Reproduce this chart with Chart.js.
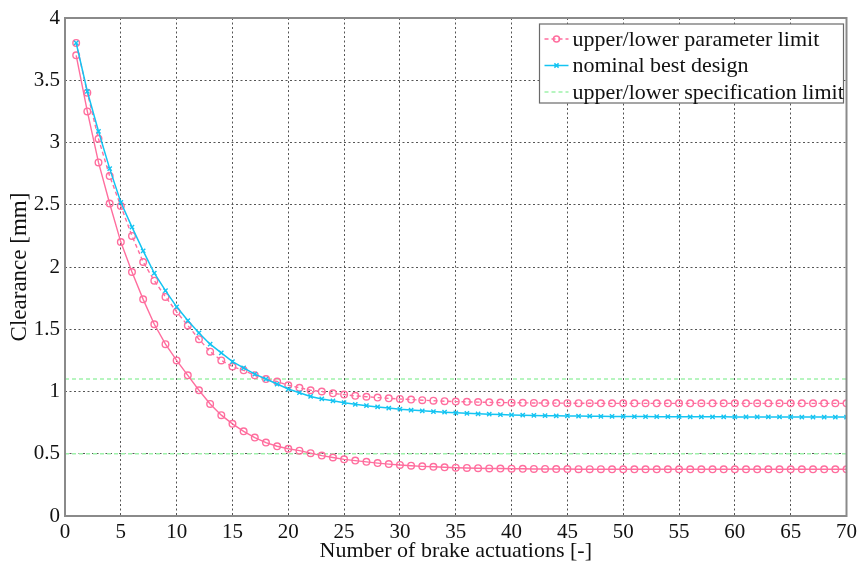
<!DOCTYPE html>
<html><head><meta charset="utf-8">
<script src="https://cdn.jsdelivr.net/npm/chart.js@4"></script>
<style>html,body{margin:0;padding:0;background:#fff}#wrap{width:861px;height:563px}</style>
</head><body><div id="wrap"><canvas id="c" width="861" height="563"></canvas></div>
<script>
const actuations = [1,2,3,4,5,6,7,8,9,10,11,12,13,14,15,16,17,18,19,20,21,22,23,24,25,26,27,28,29,30,31,32,33,34,35,36,37,38,39,40,41,42,43,44,45,46,47,48,49,50,51,52,53,54,55,56,57,58,59,60,61,62,63,64,65,66,67,68,69,70];

const upperParam = [3.80,3.40,3.03,2.73,2.49,2.25,2.04,1.89,1.76,1.64,
1.53,1.42,1.32,1.25,1.20,1.17,1.13,1.10,1.08,1.05,
1.03,1.01,1.00,0.985,0.975,0.965,0.958,0.951,0.945,0.940,
0.935,0.930,0.926,0.922,0.919,0.917,0.915,0.913,0.911,0.910,
0.909,0.908,0.907,0.907,0.906,0.906,0.906,0.905,0.905,0.905,
0.905,0.905,0.905,0.905,0.905,0.905,0.905,0.905,0.905,0.905,
0.905,0.905,0.905,0.905,0.905,0.905,0.905,0.905,0.905,0.905];

const nominal = [3.80,3.41,3.09,2.79,2.52,2.32,2.13,1.95,1.81,1.68,
1.57,1.47,1.38,1.31,1.24,1.19,1.14,1.10,1.06,1.02,
0.99,0.96,0.94,0.925,0.91,0.897,0.886,0.876,0.867,0.858,
0.851,0.845,0.839,0.834,0.829,0.825,0.821,0.818,0.815,0.812,
0.810,0.808,0.806,0.805,0.804,0.803,0.802,0.801,0.800,0.800,
0.799,0.799,0.798,0.798,0.798,0.797,0.797,0.797,0.797,0.796,
0.796,0.796,0.796,0.796,0.796,0.795,0.795,0.795,0.795,0.795];

const lowerParam = [3.70,3.25,2.84,2.51,2.20,1.96,1.74,1.54,1.38,1.25,
1.13,1.01,0.90,0.81,0.74,0.68,0.63,0.59,0.56,0.54,
0.525,0.505,0.485,0.47,0.455,0.445,0.435,0.425,0.417,0.410,
0.404,0.399,0.395,0.391,0.388,0.386,0.384,0.382,0.381,0.380,
0.379,0.378,0.378,0.377,0.377,0.376,0.376,0.376,0.375,0.375,
0.375,0.375,0.375,0.375,0.375,0.375,0.375,0.375,0.375,0.375,
0.375,0.375,0.375,0.375,0.375,0.375,0.375,0.375,0.375,0.375];

const specX = [0,70];
const specUpper = [1.1,1.1];
const specLower = [0.5,0.5];

const xTicks = [0,5,10,15,20,25,30,35,40,45,50,55,60,65,70];
const yTicks = [0,0.5,1,1.5,2,2.5,3,3.5,4];

const PINK = '#ff6e9e';
const BLUE = '#14c4f2';
const GREEN = '#9ef2aa';
const SERIF = '"Liberation Serif", "Times New Roman", serif';

const pts = (xs, ys) => xs.map((x, i) => ({x: x, y: ys[i]}));

const legendEntries = [
  {label: 'upper/lower parameter limit', color: PINK, dash: [4,3], marker: 'circle'},
  {label: 'nominal best design', color: BLUE, dash: [], marker: 'crossRot'},
  {label: 'upper/lower specification limit', color: GREEN, dash: [4,3], marker: null}
];

const framePlugin = {
  id: 'frameAndLegend',
  afterDraw(chart) {
    const ctx = chart.ctx, a = chart.chartArea;
    ctx.save();
    ctx.setLineDash([]);
    ctx.strokeStyle = '#8a8a8a';
    ctx.lineWidth = 2;
    ctx.strokeRect(a.left, a.top, a.right - a.left, a.bottom - a.top);
    // legend box
    const bx = a.right - 307, by = a.top + 6, bw = 304, bh = 79;
    ctx.fillStyle = '#ffffff';
    ctx.fillRect(bx, by, bw, bh);
    ctx.strokeStyle = '#6a6a6a';
    ctx.lineWidth = 1.2;
    ctx.strokeRect(bx, by, bw, bh);
    ctx.font = '22px ' + SERIF;
    ctx.textBaseline = 'middle';
    ctx.textAlign = 'left';
    legendEntries.forEach((e, i) => {
      const cy = by + 15 + i * 26.5;
      ctx.strokeStyle = e.color;
      ctx.lineWidth = 1.5;
      ctx.setLineDash(e.dash);
      ctx.beginPath();
      ctx.moveTo(bx + 5, cy);
      ctx.lineTo(bx + 29, cy);
      ctx.stroke();
      ctx.setLineDash([]);
      if (e.marker) {
        ctx.fillStyle = 'rgba(0,0,0,0)';
        Chart.helpers.drawPoint(ctx, {pointStyle: e.marker, radius: 3, rotation: 0, borderWidth: 1.5}, bx + 17, cy);
      }
      ctx.fillStyle = '#111';
      ctx.fillText(e.label, bx + 33, cy + 1);
    });
    ctx.restore();
  }
};

new Chart(document.getElementById('c'), {
  type: 'line',
  data: {
    datasets: [
      {label: 'upper/lower specification limit', data: pts(specX, specUpper), borderColor: GREEN, borderWidth: 1.5, borderDash: [4,3], pointRadius: 0, order: 5},
      {label: '', data: pts(specX, specLower), borderColor: GREEN, borderWidth: 1.5, borderDash: [4,3], pointRadius: 0, order: 5},
      {label: 'upper/lower parameter limit', data: pts(actuations, upperParam), borderColor: PINK, borderWidth: 1.4, borderDash: [4,3],
        pointStyle: 'circle', pointRadius: 3.3, pointBorderWidth: 1.4, pointBorderColor: PINK, pointBackgroundColor: 'rgba(0,0,0,0)', order: 3},
      {label: '', data: pts(actuations, lowerParam), borderColor: PINK, borderWidth: 1.4,
        pointStyle: 'circle', pointRadius: 3.3, pointBorderWidth: 1.4, pointBorderColor: PINK, pointBackgroundColor: 'rgba(0,0,0,0)', order: 3},
      {label: 'nominal best design', data: pts(actuations, nominal), borderColor: BLUE, borderWidth: 1.5,
        pointStyle: 'crossRot', pointRadius: 3, pointBorderWidth: 1.4, pointBorderColor: BLUE, order: 1}
    ]
  },
  options: {
    responsive: false,
    animation: false,
    devicePixelRatio: 1,
    layout: {padding: {left: 0, top: 18, right: 10, bottom: 0}},
    elements: {line: {tension: 0}},
    plugins: {legend: {display: false}, tooltip: {enabled: false}},
    scales: {
      x: {
        type: 'linear', min: 0, max: 70,
        afterFit: s => { s.height = 47; },
        afterBuildTicks: s => { s.ticks = xTicks.map(v => ({value: v})); },
        grid: {color: '#555', lineWidth: 1, drawTicks: false},
        border: {display: false, dash: [2,2.5]},
        ticks: {color: '#111', font: {family: SERIF, size: 21}, padding: 4, maxRotation: 0, callback: v => String(v)},
        title: {display: true, text: 'Number of brake actuations [-]', color: '#111', font: {family: SERIF, size: 22, lineHeight: 1}, padding: {top: 0, bottom: 1}}
      },
      y: {
        type: 'linear', min: 0, max: 4,
        afterFit: s => { s.width = 65; },
        afterBuildTicks: s => { s.ticks = yTicks.map(v => ({value: v})); },
        grid: {color: '#555', lineWidth: 1, drawTicks: false},
        border: {display: false, dash: [2,2.5]},
        ticks: {color: '#111', font: {family: SERIF, size: 21}, padding: 5, callback: v => String(v)},
        title: {display: true, text: 'Clearance [mm]', color: '#111', font: {family: SERIF, size: 23, lineHeight: 1}, padding: {top: 8, bottom: 0}}
      }
    }
  },
  plugins: [framePlugin]
});
</script>
</body></html>
